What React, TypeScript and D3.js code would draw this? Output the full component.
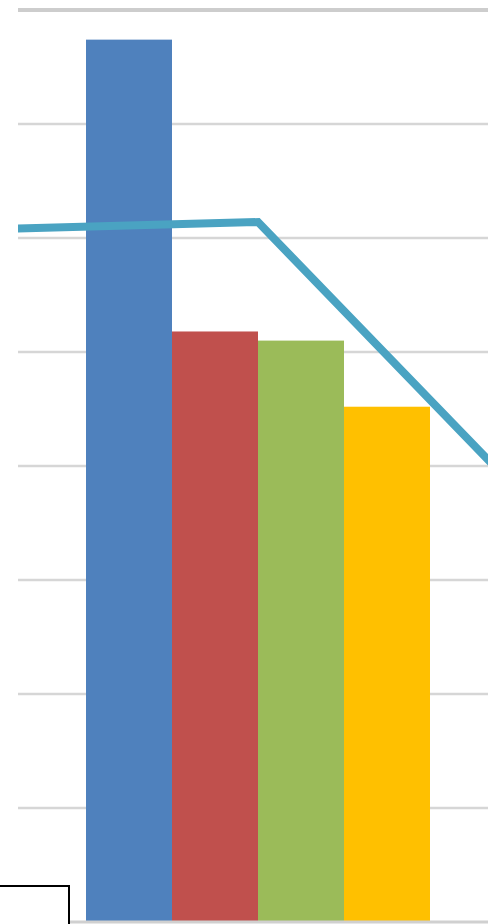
import React from "react";
import * as d3 from "d3";

// Data
const series = ["Series 1", "Series 2", "Series 3", "Series 4"];
const barValues = [77.4, 51.8, 51.0, 45.2];
const barColors = ["#4F81BD", "#C0504D", "#9BBB59", "#FFC000"];
const lineCategoryIndex = [-1, 0, 1];
const lineValues = [60.3, 61.4, 18.5];
const yTicks = [0, 10, 20, 30, 40, 50, 60, 70, 80];

const W = 488;
const H = 924;

export default function App() {
  const y = d3.scaleLinear().domain([0, 80]).range([922, 10]);
  const band = d3.scaleBand<string>().domain(series).range([86, 430]).padding(0);
  const xCat = d3.scaleLinear().domain([0, 1]).range([258, 731]);

  const line = d3
    .line<number>()
    .x((_, i) => xCat(lineCategoryIndex[i]))
    .y((d) => y(d));

  return (
    <svg
      width={W}
      height={H}
      style={{ position: "absolute", left: 0, top: 0, background: "#fff" }}
    >
      <defs>
        <clipPath id="plot">
          <rect x={18} y={0} width={W - 18} height={H} />
        </clipPath>
      </defs>
      <rect x={0} y={0} width={W} height={H} fill="#ffffff" />
      {yTicks.slice(1).map((t) => (
        <line
          key={t}
          x1={18}
          x2={W}
          y1={y(t)}
          y2={y(t)}
          stroke={t === 80 ? "#CDCDCD" : "#D6D6D6"}
          strokeWidth={t === 80 ? 4 : 2.5}
        />
      ))}
      {series.map((s, i) => (
        <rect
          key={s}
          x={band(s)}
          y={y(barValues[i])}
          width={band.bandwidth()}
          height={y(0) - y(barValues[i])}
          fill={barColors[i]}
        />
      ))}
      <line x1={18} x2={W} y1={y(0)} y2={y(0)} stroke="#D0D0D0" strokeWidth={3} />
      <path
        d={line(lineValues) || ""}
        fill="none"
        stroke="#4AA3C2"
        strokeWidth={8}
        strokeLinejoin="miter"
        clipPath="url(#plot)"
      />
      <rect x={-2} y={886} width={71} height={50} fill="#ffffff" stroke="#000000" strokeWidth={2} />
    </svg>
  );
}
